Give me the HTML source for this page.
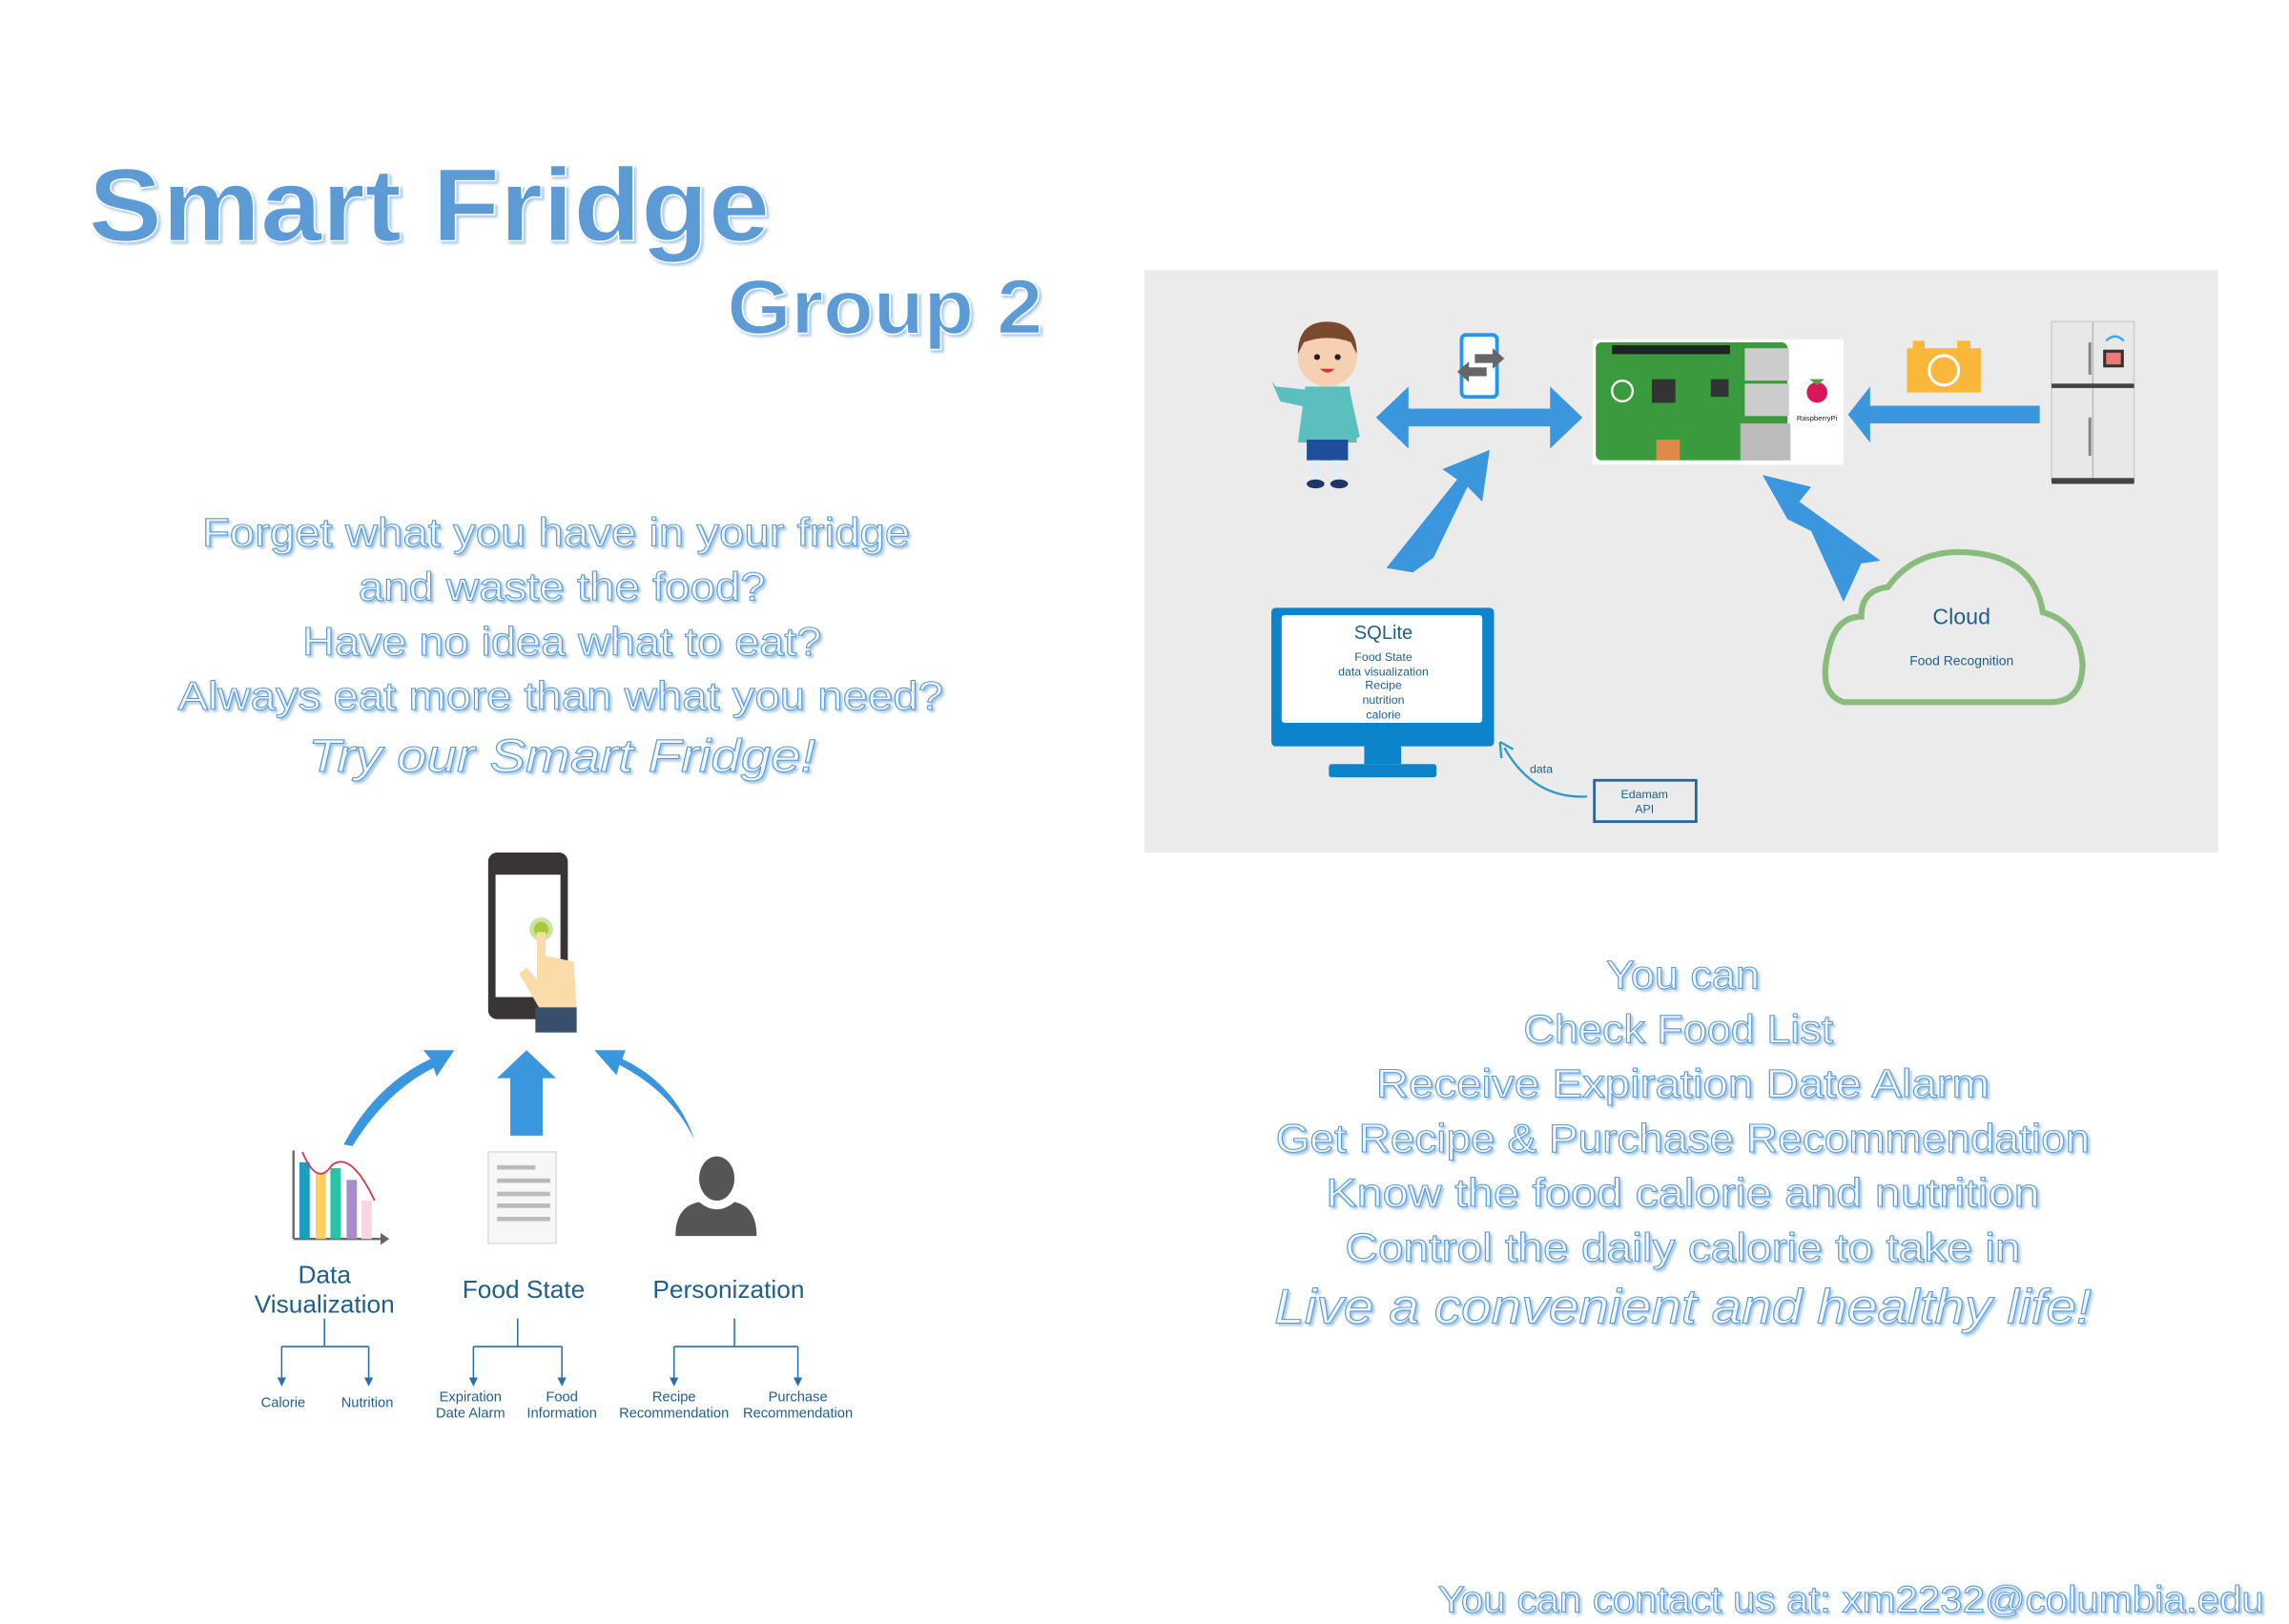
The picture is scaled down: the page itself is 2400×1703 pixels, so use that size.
<!DOCTYPE html>
<html><head><meta charset="utf-8"><style>
html,body{margin:0;padding:0;background:#fff;}
svg{display:block;}
.ol{fill:#f2f7fc;stroke:#5b9bd5;stroke-width:0.7;font-family:"Liberation Sans",sans-serif;text-anchor:middle;}
.lb{font-family:"Liberation Sans",sans-serif;fill:#1f5f8b;text-anchor:middle;}
</style></head><body>
<svg width="2400" height="1703" viewBox="0 0 1552 1101" xmlns="http://www.w3.org/2000/svg">
<defs>
<filter id="sh" x="-5%" y="-20%" width="110%" height="140%"><feDropShadow dx="1.5" dy="1.5" stdDeviation="0.8" flood-color="#9cc3e8" flood-opacity="0.9"/></filter>
<marker id="ah" markerWidth="6" markerHeight="6" refX="3" refY="3" orient="auto"><path d="M0,0 L6,3 L0,6 z" fill="#2a6fa8"/></marker>
</defs>
<rect width="1552" height="1101" fill="#fff"/>

<!-- Title -->
<text x="60" y="163" font-family="Liberation Sans,sans-serif" font-size="70" font-weight="bold" fill="#5b9bd5" stroke="#fff" stroke-width="1" filter="url(#sh)" textLength="462" lengthAdjust="spacingAndGlyphs">Smart Fridge</text>
<text x="493" y="226" font-family="Liberation Sans,sans-serif" font-size="52" font-weight="bold" fill="#5b9bd5" stroke="#fff" stroke-width="1" filter="url(#sh)" textLength="214" lengthAdjust="spacingAndGlyphs">Group 2</text>

<!-- Left questions -->
<g class="ol" font-size="27" filter="url(#sh)">
<text x="377" y="370" textLength="480" lengthAdjust="spacingAndGlyphs">Forget what you have in your fridge</text>
<text x="381" y="407" textLength="276" lengthAdjust="spacingAndGlyphs">and waste the food?</text>
<text x="381" y="444" textLength="352" lengthAdjust="spacingAndGlyphs">Have no idea what to eat?</text>
<text x="380" y="481" textLength="519" lengthAdjust="spacingAndGlyphs">Always eat more than what you need?</text>
<text x="381" y="523" font-size="31" font-style="italic" textLength="344" lengthAdjust="spacingAndGlyphs">Try our Smart Fridge!</text>
</g>

<!-- Gray panel -->
<rect x="776" y="183" width="728" height="395" fill="#ebebeb"/>

<!-- Boy -->
<g>
<circle cx="900" cy="242" r="20" fill="#f6d0b0"/>
<path d="M880,240 Q880,218 900,218 Q920,218 920,240 L916,232 Q900,226 884,232 Z" fill="#7a4a2c"/>
<circle cx="893" cy="242" r="2" fill="#222"/><circle cx="907" cy="242" r="2" fill="#222"/>
<path d="M895,250 Q900,255 905,250" fill="#d33" />
<path d="M885,262 L915,262 L920,300 L880,300 Z" fill="#5bbfbf"/>
<path d="M885,264 L865,262 L862,258 L868,272 L886,276 Z" fill="#5bbfbf"/>
<path d="M915,264 L922,296 L918,298 L912,276 Z" fill="#5bbfbf"/>
<rect x="886" y="298" width="28" height="14" fill="#1f4f9a"/>
<rect x="890" y="312" width="5" height="14" fill="#dfeff5"/><rect x="904" y="312" width="5" height="14" fill="#dfeff5"/>
<ellipse cx="892" cy="328" rx="6" ry="3" fill="#1f3566"/><ellipse cx="908" cy="328" rx="6" ry="3" fill="#1f3566"/>
</g>

<!-- small phone with arrows -->
<rect x="991" y="227" width="24" height="42" rx="3" fill="#fff" stroke="#2196f3" stroke-width="2.5"/>
<path d="M1000,240 L1012,240 L1012,236 L1020,243 L1012,250 L1012,246 L1000,246 Z" fill="#666"/>
<path d="M1008,249 L996,249 L996,245 L988,252 L996,259 L996,255 L1008,255 Z" fill="#666"/>

<!-- double arrow -->
<path d="M933,283 L955,262 L955,277 L1051,277 L1051,262 L1073,283 L1051,304 L1051,289 L955,289 L955,304 Z" fill="#3a96dd"/>

<!-- Raspberry pi -->
<rect x="1080" y="230" width="170" height="85" fill="#fff"/>
<rect x="1082" y="232" width="130" height="80" rx="4" fill="#3a9a3e"/>
<rect x="1093" y="234" width="80" height="6" fill="#222"/>
<rect x="1183" y="236" width="30" height="22" fill="#ccc"/>
<rect x="1183" y="260" width="30" height="22" fill="#ccc"/>
<rect x="1180" y="287" width="34" height="25" fill="#bbb"/>
<rect x="1120" y="257" width="16" height="16" fill="#333"/>
<rect x="1160" y="257" width="12" height="12" fill="#333"/>
<rect x="1123" y="298" width="16" height="14" fill="#e08a4a"/>
<circle cx="1100" cy="265" r="7" fill="none" stroke="#fff" stroke-width="1.5"/>
<circle cx="1232" cy="266" r="7" fill="#d6175a"/>
<path d="M1227,257 L1237,257 L1232,261 Z" fill="#5a9e3a"/>
<text x="1232" y="285" font-family="Liberation Sans,sans-serif" font-size="5" text-anchor="middle" fill="#222">RaspberryPi</text>

<!-- camera -->
<rect x="1293" y="236" width="50" height="30" fill="#f9b83a"/>
<rect x="1297" y="231" width="8" height="6" fill="#f9b83a"/><rect x="1327" y="231" width="9" height="6" fill="#f9b83a"/>
<circle cx="1318" cy="251" r="10" fill="none" stroke="#fff" stroke-width="2"/>

<!-- left arrow from fridge -->
<path d="M1253,281 L1268,262 L1268,275 L1383,275 L1383,287 L1268,287 L1268,300 Z" fill="#3a96dd"/>

<!-- fridge -->
<rect x="1391" y="218" width="56" height="108" fill="#e8e8e8" stroke="#cfcfcf"/>
<line x1="1419" y1="218" x2="1419" y2="326" stroke="#bbb"/>
<rect x="1391" y="260" width="56" height="3" fill="#444"/>
<rect x="1391" y="324" width="56" height="4" fill="#444"/>
<rect x="1416" y="232" width="2" height="22" fill="#888"/><rect x="1416" y="283" width="2" height="26" fill="#888"/>
<rect x="1426" y="237" width="14" height="12" fill="#333"/><rect x="1428" y="239" width="10" height="8" fill="#e77"/>
<path d="M1428,231 Q1434,225 1440,231" fill="none" stroke="#2ab0e8" stroke-width="1.5"/>

<!-- big arrows -->
<path d="M958,388 L940,385 L988,325 L978,318 L1010,305 L1005,340 L995,330 L972,378 Z" fill="#3a96dd"/>
<path d="M1195,322 L1228,330 L1220,340 L1275,380 L1262,382 L1250,408 L1228,360 L1212,352 Z" fill="#3a96dd"/>

<!-- monitor -->
<rect x="862" y="412" width="151" height="94" rx="3" fill="#0b84cc"/>
<rect x="869" y="417" width="136" height="73" rx="2" fill="#fff"/>
<rect x="925" y="505" width="25" height="13" fill="#0b84cc"/>
<rect x="901" y="518" width="73" height="9" rx="2" fill="#0b84cc"/>
<text x="938" y="433" class="lb" font-size="13" fill="#1f3f6b">SQLite</text>
<g class="lb" font-size="8" fill="#1f3f6b">
<text x="938" y="448">Food State</text><text x="938" y="458">data visualization</text><text x="938" y="467">Recipe</text><text x="938" y="477">nutrition</text><text x="938" y="487">calorie</text>
</g>

<!-- Edamam -->
<path d="M1076,540 Q1040,542 1020,507" fill="none" stroke="#2b9ac6" stroke-width="1.5"/>
<path d="M1017,503 L1018,514 M1017,503 L1026,508" stroke="#2b9ac6" stroke-width="1.5" fill="none"/>
<text x="1045" y="524" class="lb" font-size="8">data</text>
<rect x="1081" y="529" width="69" height="28" fill="none" stroke="#2a64a0" stroke-width="1.8"/>
<text x="1115" y="541" class="lb" font-size="8">Edamam</text><text x="1115" y="551" class="lb" font-size="8">API</text>

<!-- cloud -->
<path d="M1250,476 Q1232,470 1240,440 Q1245,418 1262,418 Q1262,400 1280,398 Q1300,370 1340,375 Q1380,380 1385,415 Q1410,422 1412,450 Q1412,476 1390,476 Z" fill="none" stroke="#88bb7c" stroke-width="4"/>
<text x="1330" y="423" class="lb" font-size="15" fill="#2a5a7a">Cloud</text>
<text x="1330" y="451" class="lb" font-size="9" fill="#2a5a7a">Food Recognition</text>

<!-- lower left phone -->
<rect x="331" y="578" width="54" height="113" rx="6" fill="#3a3535"/>
<rect x="336" y="593" width="44" height="83" fill="#fff"/>
<circle cx="367" cy="630" r="8" fill="#cfe2a3"/><circle cx="367" cy="630" r="5" fill="#a6cb3a"/>
<path d="M364,632 L370,632 L370,648 L389,652 L391,684 L366,684 L352,660 L357,656 L364,664 Z" fill="#fbdca8"/>
<rect x="363" y="683" width="28" height="17" fill="#374f6b"/>

<!-- three arrows -->
<path d="M233,776 Q255,735 292,718 L287,712 L308,712 L296,730 L294,724 Q262,740 239,777 Z" fill="#3a96dd"/>
<path d="M346,770 L346,731 L337,731 L357,712 L377,731 L368,731 L368,770 Z" fill="#3a96dd"/>
<path d="M471,773 Q455,740 420,722 L418,729 L403,712 L424,712 L422,718 Q458,735 471,773 Z" fill="#3a96dd"/>

<!-- chart -->
<line x1="199" y1="840" x2="199" y2="780" stroke="#666" stroke-width="1.5"/>
<line x1="199" y1="840" x2="258" y2="840" stroke="#666" stroke-width="1.5"/>
<path d="M258,836 L264,840 L258,844 Z" fill="#666"/>
<rect x="203" y="788" width="7" height="52" fill="#1b9dc1"/>
<rect x="214" y="796" width="7" height="44" fill="#fcd060"/>
<rect x="224" y="792" width="7" height="48" fill="#27c4a3"/>
<rect x="235" y="800" width="7" height="40" fill="#a78ccc"/>
<rect x="245" y="814" width="7" height="26" fill="#fbd6e0"/>
<path d="M205,781 Q215,805 225,790 Q238,780 254,814" fill="none" stroke="#d23c4c" stroke-width="1.2"/>

<!-- doc -->
<rect x="331" y="781" width="46" height="62" fill="#f7f7f7" stroke="#ddd"/>
<g fill="#bbb"><rect x="337" y="790" width="26" height="3"/><rect x="337" y="799" width="36" height="3"/><rect x="337" y="808" width="36" height="3"/><rect x="337" y="816" width="36" height="3"/><rect x="337" y="825" width="36" height="3"/></g>

<!-- person -->
<ellipse cx="486" cy="799" rx="12" ry="15" fill="#555"/>
<path d="M458,838 Q458,818 474,815 Q486,825 498,815 Q513,818 513,838 Z" fill="#555"/>

<!-- labels -->
<g class="lb" font-size="17">
<text x="220" y="870">Data</text><text x="220" y="890">Visualization</text>
<text x="355" y="880">Food State</text>
<text x="494" y="880">Personization</text>
</g>
<g stroke="#2a6fa8" stroke-width="1" fill="none">
<path d="M220,894 V913 M191,913 H250 M191,913 V937 M250,913 V937" />
<path d="M351,894 V913 M321,913 H381 M321,913 V937 M381,913 V937" />
<path d="M498,894 V913 M457,913 H541 M457,913 V937 M541,913 V937" />
</g>
<g fill="#2a6fa8">
<path d="M188,934 L194,934 L191,940 Z"/><path d="M247,934 L253,934 L250,940 Z"/>
<path d="M318,934 L324,934 L321,940 Z"/><path d="M378,934 L384,934 L381,940 Z"/>
<path d="M454,934 L460,934 L457,940 Z"/><path d="M538,934 L544,934 L541,940 Z"/>
</g>
<g class="lb" font-size="9.5">
<text x="192" y="954">Calorie</text><text x="249" y="954">Nutrition</text>
<text x="319" y="950">Expiration</text><text x="319" y="961">Date Alarm</text>
<text x="381" y="950">Food</text><text x="381" y="961">Information</text>
<text x="457" y="950">Recipe</text><text x="457" y="961">Recommendation</text>
<text x="541" y="950">Purchase</text><text x="541" y="961">Recommendation</text>
</g>

<!-- right text -->
<g class="ol" font-size="27" filter="url(#sh)">
<text x="1141" y="670" textLength="104" lengthAdjust="spacingAndGlyphs">You can</text>
<text x="1138" y="707" textLength="210" lengthAdjust="spacingAndGlyphs">Check Food List</text>
<text x="1141" y="744" textLength="416" lengthAdjust="spacingAndGlyphs">Receive  Expiration Date Alarm</text>
<text x="1141" y="781" textLength="552" lengthAdjust="spacingAndGlyphs">Get Recipe &amp; Purchase Recommendation</text>
<text x="1141" y="818" textLength="484" lengthAdjust="spacingAndGlyphs">Know the food calorie and nutrition</text>
<text x="1141" y="855" textLength="458" lengthAdjust="spacingAndGlyphs">Control the daily calorie to take in</text>
<text x="1141" y="897" font-size="33" font-style="italic" textLength="554" lengthAdjust="spacingAndGlyphs">Live a convenient and healthy life!</text>
<text x="1255" y="1093" font-size="25" textLength="560" lengthAdjust="spacingAndGlyphs">You can contact us at: xm2232@columbia.edu</text>
</g>
</svg>
</body></html>
